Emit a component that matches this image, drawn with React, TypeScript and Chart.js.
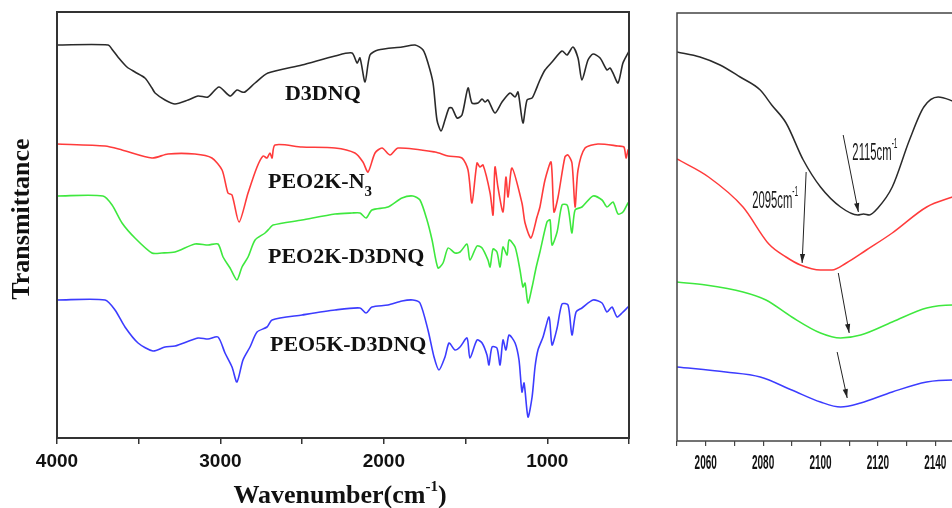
import React, { useEffect, useRef } from 'react';
import { Chart, registerables } from 'chart.js';

Chart.register(...registerables);

// ---------- Left panel: FTIR spectra [wavenumber (cm-1), offset transmittance] ----------
const D3DNQ: [number, number][] = [
  [4000, 393], [3688, 393], [3660, 388], [3627, 381], [3572, 371], [3523, 366], [3462, 360], [3419, 350],
  [3400, 345], [3339, 338], [3278, 334], [3198, 338], [3137, 342], [3076, 341], [3009, 351], [2941, 342],
  [2899, 348], [2868, 346], [2850, 346], [2788, 355], [2709, 365], [2501, 373], [2299, 382], [2195, 385],
  [2164, 375], [2146, 380], [2115, 356], [2085, 383], [2036, 388], [1889, 391], [1809, 393], [1760, 388],
  [1730, 375], [1699, 355], [1675, 318], [1650, 307], [1626, 318], [1601, 330], [1583, 330], [1552, 320],
  [1522, 323], [1485, 350], [1461, 335], [1424, 335], [1399, 339], [1381, 336], [1363, 338], [1320, 325],
  [1277, 336], [1228, 345], [1197, 341], [1179, 346], [1149, 315], [1124, 338], [1093, 340], [1075, 346],
  [1045, 358], [1014, 368], [971, 376], [910, 387], [879, 383], [843, 391], [812, 380], [788, 358],
  [751, 378], [720, 384], [677, 380], [635, 368], [616, 370], [598, 365], [567, 355], [537, 375],
  [506, 385], [500, 387],
];

const PEO2K_N3: [number, number][] = [
  [4000, 294], [3706, 292], [3602, 288], [3419, 280], [3321, 284], [3156, 284], [3052, 280], [2990, 268],
  [2954, 245], [2929, 243], [2886, 216], [2831, 245], [2776, 271], [2739, 282], [2715, 280], [2697, 285],
  [2684, 280], [2666, 293], [2501, 291], [2299, 290], [2177, 285], [2128, 276], [2097, 266], [2054, 285],
  [2011, 290], [1962, 283], [1913, 290], [1687, 286], [1607, 282], [1522, 280], [1485, 268], [1461, 235],
  [1430, 275], [1412, 271], [1393, 273], [1350, 245], [1332, 223], [1320, 271], [1302, 251], [1271, 226],
  [1253, 261], [1240, 241], [1216, 270], [1155, 235], [1136, 215], [1100, 200], [1063, 221], [1045, 231],
  [1014, 258], [977, 276], [959, 226], [934, 241], [892, 281], [873, 283], [849, 275], [830, 231],
  [812, 268], [769, 290], [690, 294], [567, 292], [531, 291], [518, 280], [506, 288], [500, 289],
];

const PEO2K_D3DNQ: [number, number][] = [
  [4000, 242], [3719, 242], [3663, 233], [3602, 215], [3523, 200], [3419, 185], [3358, 185], [3278, 186],
  [3156, 194], [3076, 193], [3015, 194], [2984, 181], [2941, 170], [2899, 158], [2868, 171], [2831, 181],
  [2788, 198], [2727, 205], [2697, 210], [2678, 213], [2501, 218], [2299, 224], [2195, 225], [2146, 225],
  [2109, 220], [2073, 228], [1975, 231], [1889, 240], [1822, 242], [1779, 238], [1736, 218], [1705, 198],
  [1669, 170], [1638, 175], [1607, 190], [1565, 185], [1534, 186], [1491, 194], [1473, 178], [1430, 192],
  [1399, 190], [1363, 178], [1350, 171], [1332, 189], [1308, 186], [1289, 171], [1271, 191], [1246, 183],
  [1234, 198], [1197, 191], [1167, 168], [1149, 151], [1136, 155], [1118, 135], [1093, 151], [1069, 170],
  [1045, 186], [1002, 216], [983, 218], [971, 193], [940, 206], [910, 233], [879, 233], [867, 225],
  [849, 205], [830, 228], [788, 231], [720, 242], [665, 238], [635, 231], [598, 236], [567, 224],
  [537, 226], [506, 235], [500, 236],
];

const PEO5K_D3DNQ: [number, number][] = [
  [4000, 138], [3706, 138], [3645, 128], [3584, 111], [3504, 95], [3413, 87], [3339, 91], [3278, 92],
  [3137, 100], [3076, 99], [3015, 101], [2972, 85], [2929, 71], [2899, 56], [2862, 78], [2819, 91],
  [2776, 106], [2715, 111], [2684, 118], [2501, 123], [2299, 128], [2146, 130], [2109, 125], [2073, 131],
  [1975, 133], [1889, 137], [1822, 138], [1779, 135], [1730, 108], [1693, 81], [1663, 68], [1626, 81],
  [1601, 95], [1565, 88], [1534, 91], [1491, 100], [1473, 80], [1430, 98], [1399, 95], [1369, 83],
  [1357, 73], [1338, 91], [1308, 90], [1289, 73], [1271, 98], [1253, 88], [1234, 103], [1197, 95],
  [1173, 78], [1155, 46], [1142, 55], [1118, 21], [1093, 41], [1075, 71], [1057, 88], [1026, 101],
  [989, 121], [971, 93], [940, 110], [910, 134], [873, 133], [849, 103], [824, 126], [788, 130],
  [720, 138], [665, 135], [635, 126], [604, 131], [573, 121], [543, 125], [506, 131], [500, 132],
];

const LEFT_X_LABELS = [4000, 3000, 2000, 1000];

// ---------- Right panel: azide region zoom ----------
const ZOOM_D3DNQ: [number, number][] = [
  [2050, 389], [2058, 384], [2065, 376], [2072, 364], [2079, 351], [2083, 336], [2088, 318], [2094, 281],
  [2100, 254], [2107, 234], [2113, 226], [2115, 227], [2117, 226], [2120, 233], [2125, 254], [2131, 301],
  [2136, 334], [2141, 344], [2146, 340], [2150, 335],
];
const ZOOM_PEO2K_N3: [number, number][] = [
  [2050, 282], [2061, 264], [2073, 234], [2082, 197], [2088, 184], [2093, 176], [2100, 171], [2104, 171],
  [2109, 178], [2116, 191], [2125, 208], [2137, 234], [2146, 244], [2150, 248],
];
const ZOOM_PEO2K_D3DNQ: [number, number][] = [
  [2050, 159], [2060, 156], [2073, 149], [2081, 141], [2090, 124], [2100, 108], [2107, 103], [2114, 106],
  [2125, 119], [2137, 133], [2146, 136], [2150, 136],
];
const ZOOM_PEO5K_D3DNQ: [number, number][] = [
  [2050, 74], [2067, 69], [2079, 64], [2090, 51], [2100, 39], [2107, 34], [2114, 38], [2125, 49],
  [2137, 59], [2146, 61], [2150, 61],
];
const RIGHT_X_LABELS = [2060, 2080, 2100, 2120, 2140];

// arrows: [from wn, from v, to wn, to v]
const ARROWS: [number, number, number, number][] = [
  [2107.9, 306, 2113.2, 229],
  [2095.0, 269, 2093.6, 178],
  [2106.2, 168, 2110.0, 108],
  [2105.8, 89, 2109.3, 43],
];

// ---------- styles ----------
const COLORS = ['#2a2a2a', '#ff3b3b', '#3ee83e', '#3c3cff'];
const SERIF = "'Liberation Serif', 'Times New Roman', serif";
const SANS = "'Liberation Sans', Arial, sans-serif";
const AXIS = '#333333';

type Part = { t: string; size: number; dy?: number };

const LEFT_LABELS: { wn: number; v: number; parts: Part[] }[] = [
  { wn: 2605, v: 338, parts: [{ t: 'D3DNQ', size: 22 }] },
  { wn: 2709, v: 250, parts: [{ t: 'PEO2K-N', size: 22 }, { t: '3', size: 15, dy: 8 }] },
  { wn: 2709, v: 175, parts: [{ t: 'PEO2K-D3DNQ', size: 22 }] },
  { wn: 2697, v: 87, parts: [{ t: 'PEO5K-D3DNQ', size: 22 }] },
];

const RIGHT_NOTES: { wn: number; v: number; parts: Part[] }[] = [
  { wn: 2111.1, v: 281, parts: [{ t: '2115cm', size: 24 }, { t: '-1', size: 14, dy: -12 }] },
  { wn: 2076.2, v: 233, parts: [{ t: '2095cm', size: 24 }, { t: '-1', size: 14, dy: -12 }] },
];

function drawParts(ctx: CanvasRenderingContext2D, parts: Part[], family: string, weight: string, align: 'left' | 'center') {
  const ws = parts.map((p) => {
    ctx.font = `${weight} ${p.size}px ${family}`;
    return ctx.measureText(p.t).width;
  });
  const total = ws.reduce((s, w) => s + w, 0);
  let x = align === 'center' ? -total / 2 : 0;
  ctx.textAlign = 'left';
  parts.forEach((p, i) => {
    ctx.font = `${weight} ${p.size}px ${family}`;
    ctx.fillText(p.t, x, p.dy ?? 0);
    x += ws[i];
  });
}

function arrow(ctx: CanvasRenderingContext2D, x1: number, y1: number, x2: number, y2: number) {
  ctx.beginPath();
  ctx.moveTo(x1, y1);
  ctx.lineTo(x2, y2);
  ctx.stroke();
  const a = Math.atan2(y2 - y1, x2 - x1);
  const len = 9, w = 2.6;
  const bx = x2 - len * Math.cos(a), by = y2 - len * Math.sin(a);
  ctx.beginPath();
  ctx.moveTo(x2, y2);
  ctx.lineTo(bx + w * Math.sin(a), by - w * Math.cos(a));
  ctx.lineTo(bx - w * Math.sin(a), by + w * Math.cos(a));
  ctx.closePath();
  ctx.fill();
}

const toXY = (arr: [number, number][]) => arr.map(([x, y]) => ({ x, y }));

const leftDecor = {
  id: 'leftDecor',
  afterDraw(chart: any) {
    const { ctx, chartArea: a, scales } = chart;
    ctx.save();
    ctx.strokeStyle = AXIS;
    ctx.lineWidth = 2;
    ctx.strokeRect(a.left, a.top, a.right - a.left, a.bottom - a.top);
    ctx.fillStyle = '#111';
    ctx.textBaseline = 'alphabetic';
    for (const lab of LEFT_LABELS) {
      ctx.save();
      ctx.translate(scales.x.getPixelForValue(lab.wn), scales.y.getPixelForValue(lab.v));
      drawParts(ctx, lab.parts, SERIF, 'bold', 'left');
      ctx.restore();
    }
    // x title
    ctx.save();
    ctx.translate((a.left + a.right) / 2 - 3, a.bottom + 65);
    drawParts(ctx, [{ t: 'Wavenumber(cm', size: 26 }, { t: '-1', size: 15, dy: -12 }, { t: ')', size: 26 }], SERIF, 'bold', 'center');
    ctx.restore();
    // y title
    ctx.save();
    ctx.translate(a.left - 35, a.top + 207);
    ctx.rotate(-Math.PI / 2);
    ctx.textBaseline = 'middle';
    drawParts(ctx, [{ t: 'Transmittance', size: 26 }], SERIF, 'bold', 'center');
    ctx.restore();
    ctx.restore();
  },
};

const rightDecor = {
  id: 'rightDecor',
  afterDraw(chart: any) {
    const { ctx, chartArea: a, scales } = chart;
    ctx.save();
    ctx.strokeStyle = '#444';
    ctx.lineWidth = 1.5;
    ctx.strokeRect(a.left, a.top, a.right - a.left, a.bottom - a.top);
    // tick labels (condensed)
    ctx.fillStyle = '#111';
    ctx.textBaseline = 'middle';
    for (const v of RIGHT_X_LABELS) {
      ctx.save();
      ctx.translate(scales.x.getPixelForValue(v), a.bottom + 22);
      ctx.scale(0.5, 1);
      drawParts(ctx, [{ t: String(v), size: 20 }], SANS, 'bold', 'center');
      ctx.restore();
    }
    // arrows
    ctx.strokeStyle = '#222';
    ctx.fillStyle = '#222';
    ctx.lineWidth = 1;
    for (const [w1, v1, w2, v2] of ARROWS) {
      arrow(ctx, scales.x.getPixelForValue(w1), scales.y.getPixelForValue(v1), scales.x.getPixelForValue(w2), scales.y.getPixelForValue(v2));
    }
    // notes
    ctx.fillStyle = '#1a1a1a';
    ctx.textBaseline = 'alphabetic';
    for (const n of RIGHT_NOTES) {
      ctx.save();
      ctx.translate(scales.x.getPixelForValue(n.wn), scales.y.getPixelForValue(n.v));
      ctx.scale(0.47, 1);
      drawParts(ctx, n.parts, SANS, 'normal', 'left');
      ctx.restore();
    }
    ctx.restore();
  },
};

function leftConfig(): any {
  const series = [D3DNQ, PEO2K_N3, PEO2K_D3DNQ, PEO5K_D3DNQ];
  return {
    type: 'line',
    data: {
      datasets: series.map((s, i) => ({
        data: toXY(s),
        borderColor: COLORS[i],
        borderWidth: 1.6,
        pointRadius: 0,
        tension: 0.25,
        fill: false,
      })),
    },
    options: {
      animation: false,
      responsive: false,
      maintainAspectRatio: false,
      layout: { padding: { left: 0, top: 12, right: 31, bottom: 0 } },
      plugins: { legend: { display: false }, tooltip: { enabled: false } },
      scales: {
        x: {
          type: 'linear',
          reverse: true,
          min: 500,
          max: 4000,
          ticks: {
            stepSize: 500,
            autoSkip: false,
            maxRotation: 0,
            minRotation: 0,
            padding: 6,
            color: '#111',
            font: { family: SANS, weight: 'bold', size: 19 },
            callback: (v: number) => (LEFT_X_LABELS.includes(v) ? String(v) : ''),
          },
          grid: { display: true, drawOnChartArea: false, drawTicks: true, tickLength: 6, color: AXIS, lineWidth: 1.5 },
          border: { display: false },
          afterFit: (s: any) => { s.height = 70; },
        },
        y: {
          min: 0,
          max: 426,
          ticks: { display: false },
          grid: { display: false },
          border: { display: false },
          afterFit: (s: any) => { s.width = 57; },
        },
      },
    },
    plugins: [leftDecor],
  };
}

function rightConfig(): any {
  const series = [ZOOM_D3DNQ, ZOOM_PEO2K_N3, ZOOM_PEO2K_D3DNQ, ZOOM_PEO5K_D3DNQ];
  return {
    type: 'line',
    data: {
      datasets: series.map((s, i) => ({
        data: toXY(s),
        borderColor: COLORS[i],
        borderWidth: 1.5,
        pointRadius: 0,
        cubicInterpolationMode: 'monotone',
        fill: false,
      })),
    },
    options: {
      animation: false,
      responsive: false,
      maintainAspectRatio: false,
      layout: { padding: { left: 0, top: 13, right: 36, bottom: 0 } },
      plugins: { legend: { display: false }, tooltip: { enabled: false } },
      scales: {
        x: {
          type: 'linear',
          min: 2050,
          max: 2150,
          ticks: {
            stepSize: 10,
            autoSkip: false,
            maxRotation: 0,
            minRotation: 0,
            color: 'rgba(0,0,0,0)',
            font: { family: SANS, size: 12 },
            callback: () => '',
          },
          grid: { display: true, drawOnChartArea: false, drawTicks: true, tickLength: 5, color: '#444', lineWidth: 1.2 },
          border: { display: false },
          afterFit: (s: any) => { s.height = 67; },
        },
        y: {
          min: 0,
          max: 428,
          ticks: { display: false },
          grid: { display: false },
          border: { display: false },
          afterFit: (s: any) => { s.width = 27; },
        },
      },
    },
    plugins: [rightDecor],
  };
}

export default function App() {
  const leftRef = useRef<HTMLCanvasElement>(null);
  const rightRef = useRef<HTMLCanvasElement>(null);
  useEffect(() => {
    const c1 = new Chart(leftRef.current as HTMLCanvasElement, leftConfig());
    const c2 = new Chart(rightRef.current as HTMLCanvasElement, rightConfig());
    return () => {
      c1.destroy();
      c2.destroy();
    };
  }, []);
  return (
    <div style={{ position: 'fixed', left: 0, top: 0, width: 952, height: 508, overflow: 'hidden', background: '#fff' }}>
      <canvas ref={leftRef} width={660} height={508} style={{ position: 'absolute', left: 0, top: 0, width: 660, height: 508 }} />
      <canvas ref={rightRef} width={350} height={508} style={{ position: 'absolute', left: 650, top: 0, width: 350, height: 508 }} />
    </div>
  );
}
